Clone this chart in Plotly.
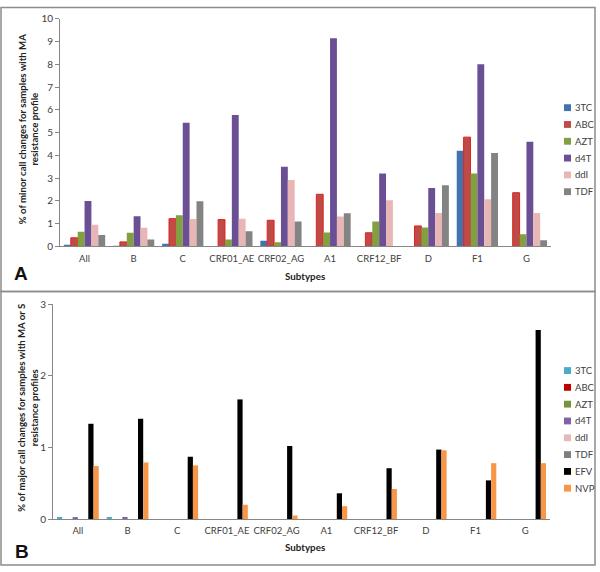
import plotly.graph_objects as go

# ---------------- data ----------------
subtypes = ["All", "B", "C", "CRF01_AE", "CRF02_AG", "A1", "CRF12_BF", "D", "F1", "G"]

drugs_a = ["3TC", "ABC", "AZT", "d4T", "ddI", "TDF"]
a_3tc = [0.07, 0.03, 0.12, 0.0, 0.25, 0.0, 0.0, 0.0, 4.20, 0.0]
a_abc = [0.38, 0.20, 1.22, 1.18, 1.15, 2.29, 0.60, 0.90, 4.80, 2.36]
a_azt = [0.65, 0.60, 1.37, 0.30, 0.18, 0.61, 1.09, 0.83, 3.20, 0.53]
a_d4t = [2.00, 1.33, 5.43, 5.77, 3.50, 9.14, 3.20, 2.57, 8.00, 4.60]
a_ddi = [0.95, 0.82, 1.20, 1.22, 2.92, 1.31, 2.03, 1.47, 2.07, 1.47]
a_tdf = [0.50, 0.30, 1.98, 0.67, 1.10, 1.46, 0.0, 2.69, 4.10, 0.27]
values_a = [a_3tc, a_abc, a_azt, a_d4t, a_ddi, a_tdf]

drugs_b = ["3TC", "ABC", "AZT", "d4T", "ddI", "TDF", "EFV", "NVP"]
b_3tc = [0.03, 0.03, 0, 0, 0, 0, 0, 0, 0, 0]
b_abc = [0, 0, 0, 0, 0, 0, 0, 0, 0, 0]
b_azt = [0, 0, 0, 0, 0, 0, 0, 0, 0, 0]
b_d4t = [0.02, 0.03, 0, 0, 0, 0, 0, 0, 0, 0]
b_ddi = [0, 0, 0, 0, 0, 0, 0, 0, 0, 0]
b_tdf = [0, 0, 0, 0, 0, 0, 0, 0, 0, 0]
b_efv = [1.33, 1.40, 0.87, 1.67, 1.02, 0.36, 0.71, 0.97, 0.54, 2.64]
b_nvp = [0.74, 0.79, 0.75, 0.20, 0.05, 0.18, 0.42, 0.96, 0.78, 0.78]
values_b = [b_3tc, b_abc, b_azt, b_d4t, b_ddi, b_tdf, b_efv, b_nvp]

ticks_a = list(range(0, 11))
ticks_b = [0, 1, 2, 3]

# ---------------- style ----------------
colors_a = ["#3F74B0", "#BE4B48", "#82A040", "#6B4F94", "#E8B6B5", "#838383"]
lines_a = ["#3F74B0", "#E0231E", "#82A040", "#6B4F94", "#E8B6B5", "#838383"]
colors_b = ["#4BACC6", "#C00000", "#77933C", "#8064A2", "#E6B9B8", "#7F7F7F", "#000000", "#F79646"]

W, H = 600, 572
FONT = "Lato, Carlito, 'Open Sans', sans-serif"
AXC = "#868686"
TXT = "#404040"


def px(x):
    return x / W


def py(y):
    return 1 - y / H


fig = go.Figure()

for name, vals, c, lc in zip(drugs_a, values_a, colors_a, lines_a):
    fig.add_trace(go.Bar(x=subtypes, y=vals, name=name,
                         marker=dict(color=c, line=dict(color=lc, width=1 if lc != c else 0)),
                         xaxis="x", yaxis="y", showlegend=False))

for name, vals, c in zip(drugs_b, values_b, colors_b):
    fig.add_trace(go.Bar(x=subtypes, y=vals, name=name, marker=dict(color=c, line=dict(width=0)),
                         xaxis="x2", yaxis="y2", showlegend=False))

xa = dict(type="category", range=[-0.5, 9.5], showline=True, linecolor=AXC, linewidth=1,
          ticks="", showgrid=False, zeroline=False, tickangle=0,
          tickfont=dict(family=FONT, size=9.5, color=TXT), ticklabelstandoff=3)
ya = dict(showline=True, linecolor=AXC, linewidth=1, ticks="outside", ticklen=4, tickcolor=AXC,
          showgrid=False, zeroline=False, tickfont=dict(family=FONT, size=10, color=TXT))

fig.update_layout(
    width=W, height=H, margin=dict(l=0, r=0, t=0, b=0),
    paper_bgcolor="white", plot_bgcolor="white",
    barmode="group", bargap=0.16, bargroupgap=0,
    xaxis=dict(xa, domain=[px(60), px(551)], anchor="y"),
    yaxis=dict(ya, domain=[py(245), py(12)], range=[0, 10], tickvals=ticks_a, anchor="x"),
    xaxis2=dict(xa, domain=[px(53), px(550)], anchor="y2"),
    yaxis2=dict(ya, domain=[py(524), py(304)], range=[0, 3], tickvals=ticks_b, anchor="x2"),
    font=dict(family=FONT, color=TXT),
)

shapes = [
    dict(type="rect", xref="paper", yref="paper", x0=px(1), x1=px(595), y0=py(291), y1=py(0.5),
         line=dict(color="#8C8C8C", width=1.5)),
    dict(type="rect", xref="paper", yref="paper", x0=px(1), x1=px(595), y0=py(571), y1=py(291),
         line=dict(color="#8C8C8C", width=1.5)),
]
annotations = []


def legend(names, colors, y0, step):
    for i, (n, c) in enumerate(zip(names, colors)):
        yc = y0 + i * step
        shapes.append(dict(type="rect", xref="paper", yref="paper", x0=px(564), x1=px(571),
                           y0=py(yc + 3.5), y1=py(yc - 3.5), fillcolor=c, line=dict(width=0)))
        annotations.append(dict(x=px(573), y=py(yc), xref="paper", yref="paper", text=n, showarrow=False,
                                xanchor="left", yanchor="middle",
                                font=dict(family=FONT, size=9.5, color=TXT)))


legend(drugs_a, colors_a, 103, 17.2)
legend(drugs_b, colors_b, 372, 17.2)


def ann(x, y, text, size, family=FONT, color="#222222", angle=0):
    annotations.append(dict(x=px(x), y=py(y), xref="paper", yref="paper", showarrow=False,
                            xanchor="center", yanchor="middle", textangle=angle, text=text,
                            font=dict(family=family, size=size, color=color)))


ann(28, 125, "<b>% of minor call changes for samples with MA<br>resistance profile</b>", 9.6, angle=-90)
ann(28, 410, "<b>% of major call changes for samples with MA or S<br>resistance profiles</b>", 9.6, angle=-90)
ann(305, 275, "<b>Subtypes</b>", 9.8)
ann(305, 553, "<b>Subtypes</b>", 9.8)
ann(21, 273, "<b>A</b>", 19, family="Liberation Sans, Arial, sans-serif", color="#111111")
ann(22, 557, "<b>B</b>", 19, family="Liberation Sans, Arial, sans-serif", color="#111111")

fig.update_layout(shapes=shapes, annotations=annotations)
fig.write_html("out.html", config={"displayModeBar": False},
               post_script="document.body.style.margin='0';document.body.style.overflow='hidden';")
